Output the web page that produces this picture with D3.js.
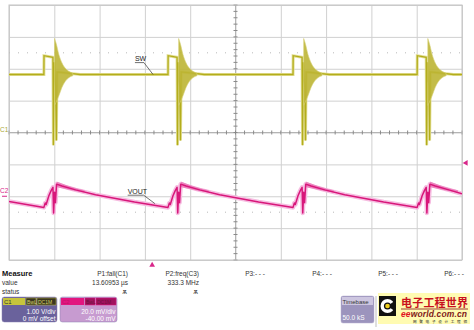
<!DOCTYPE html>
<html>
<head>
<meta charset="utf-8">
<script src="https://cdnjs.cloudflare.com/ajax/libs/d3/7.8.5/d3.min.js"></script>
<style>
  body { margin: 0; background: #fff; }
  svg { display: block; font-family: "Liberation Sans", Arial, sans-serif; }
</style>
</head>
<body>
<div id="scope"></div>
<script>
// time is in divisions (10 across), C1 in volts, C2 in mV

// rising edge of every SW pulse on screen
var edgeTimes = [0.77, 3.51, 6.27, 9.01];

// SW (C1) shape around one edge: [dt, volts]
var swLeadIn = [[0, 1.82]];
var swPulse = [[0, 1.82], [0.003, 2.41], [0.2, 2.36], [0.21, -0.4], [0.225, 2.2],
               [0.26, 1.4], [0.275, -0.25], [0.29, 1.9], [0.8, 1.82]];
var swTail = [[10, 1.82]];
// ringing envelope after the edge: [dt, top, bottom]
var swRing = [[0.235, 2.95, 0.85], [0.27, 2.8, 0.95], [0.33, 2.45, 1.15], [0.4, 2.18, 1.42],
              [0.47, 2.02, 1.6], [0.55, 1.92, 1.72], [0.64, 1.86, 1.78]];

// VOUT (C2) shape around one edge: [dt, mV]
var voutLeadIn = [[0, -3.3]];
var voutEdge = [[0, -7], [0.03, -4.2], [0.05, -5.2], [0.11, 0.3], [0.16, 3.5], [0.2, 5.6],
                [0.215, -10.5], [0.235, 2.5], [0.255, -4], [0.28, 7.6], [0.4, 6.4],
                [0.7, 4.0], [1.14, 1.0], [2.0, -3.6]];
var voutTail = [[10, 1.5]];
var voutFuzz = [[0.28, 9.3, 5.8], [0.4, 8.0, 5.0], [0.6, 6.0, 3.8], [0.9, 3.8, 2.2]];

// channel settings
var c1VoltsPerDiv = 1, c1Offset = 0;
var c2MvPerDiv = 20, c2Offset = -40;
var triggerTime = 3.16, triggerLevel = 20.9;

// measurement table
var measureNames = ["P1:fall(C1)", "P2:freq(C3)", "P3:- - -", "P4:- - -", "P5:- - -", "P6:- - -"];
var measureValues = ["13.60953 µs", "333.3 MHz", "", "", "", ""];
var measureStatus = ["ѫ", "ѫ", "", "", "", ""];
var rowLabels = ["Measure", "value", "status"];

(function() {
  var width = 474,
      height = 330;
  var plotL = 9, plotR = 462, plotT = 5, plotB = 260;

  var svg = d3.select("#scope")
    .append("svg")
    .attr("width", width)
    .attr("height", height);

  var x = d3.scaleLinear().domain([0, 10]).range([plotL, plotR]);
  var y1 = d3.scaleLinear()
    .domain([-c1Offset - 4 * c1VoltsPerDiv, -c1Offset + 4 * c1VoltsPerDiv])
    .range([plotB, plotT]);
  var y2 = d3.scaleLinear()
    .domain([-c2Offset - 4 * c2MvPerDiv, -c2Offset + 4 * c2MvPerDiv])
    .range([plotB, plotT]);
  var yDiv = d3.scaleLinear().domain([-4, 4]).range([plotB, plotT]);

  // grid
  svg.append("g")
    .attr("transform", "translate(0," + plotB + ")")
    .call(d3.axisBottom(x).ticks(10).tickSize(-(plotB - plotT)).tickFormat(""))
    .call(function(g) { g.select(".domain").remove(); })
    .selectAll("line").attr("stroke", "#d0d0d0");
  svg.append("g")
    .attr("transform", "translate(" + plotL + ",0)")
    .call(d3.axisLeft(yDiv).ticks(8).tickSize(-(plotR - plotL)).tickFormat(""))
    .call(function(g) { g.select(".domain").remove(); })
    .selectAll("line").attr("stroke", "#d0d0d0");

  // faint dotted lines at +-2.5 div
  [2.5, -2.5].forEach(function(d) {
    svg.append("line")
      .attr("x1", plotL).attr("x2", plotR)
      .attr("y1", yDiv(d)).attr("y2", yDiv(d))
      .attr("stroke", "#b8b8b8")
      .attr("stroke-dasharray", "1,8");
  });

  // center cross with minor ticks
  svg.append("line")
    .attr("x1", plotL).attr("x2", plotR)
    .attr("y1", yDiv(0)).attr("y2", yDiv(0))
    .attr("stroke", "#b4b4b4");
  svg.append("line")
    .attr("x1", x(5)).attr("x2", x(5))
    .attr("y1", plotT).attr("y2", plotB)
    .attr("stroke", "#b4b4b4");
  svg.selectAll(".xminor")
    .data(d3.range(0, 10.001, 0.2))
    .enter().append("line")
    .attr("x1", function(d) { return x(d); })
    .attr("x2", function(d) { return x(d); })
    .attr("y1", yDiv(0) - 2).attr("y2", yDiv(0) + 2)
    .attr("stroke", "#8a8a8a");
  svg.selectAll(".yminor")
    .data(d3.range(-4, 4.001, 0.2))
    .enter().append("line")
    .attr("y1", function(d) { return yDiv(d); })
    .attr("y2", function(d) { return yDiv(d); })
    .attr("x1", x(5) - 2).attr("x2", x(5) + 2)
    .attr("stroke", "#8a8a8a");

  svg.append("rect")
    .attr("x", plotL).attr("y", plotT)
    .attr("width", plotR - plotL).attr("height", plotB - plotT)
    .attr("fill", "none")
    .attr("stroke", "#c4c4c4");

  // build traces
  function shifted(shape) {
    var out = [];
    edgeTimes.forEach(function(e) {
      shape.forEach(function(p) { out.push([e + p[0]].concat(p.slice(1))); });
    });
    return out;
  }
  var swPoints = swLeadIn.concat(shifted(swPulse).filter(function(p) { return p[0] <= 10; }), swTail);
  var voutPoints = voutLeadIn.concat(shifted(voutEdge).filter(function(p) { return p[0] <= 10; }), voutTail);

  svg.append("clipPath").attr("id", "plotclip")
    .append("rect")
    .attr("x", plotL).attr("y", plotT)
    .attr("width", plotR - plotL).attr("height", plotB - plotT);
  var traces = svg.append("g").attr("clip-path", "url(#plotclip)");

  var line1 = d3.line().x(function(d) { return x(d[0]); }).y(function(d) { return y1(d[1]); });
  var line2 = d3.line().x(function(d) { return x(d[0]); }).y(function(d) { return y2(d[1]); });
  var ring = d3.area()
    .x(function(d) { return x(d[0]); })
    .y0(function(d) { return y1(d[2]); })
    .y1(function(d) { return y1(d[1]); })
    .curve(d3.curveMonotoneX);
  var fuzz = d3.area()
    .x(function(d) { return x(d[0]); })
    .y0(function(d) { return y2(d[2]); })
    .y1(function(d) { return y2(d[1]); })
    .curve(d3.curveMonotoneX);

  // SW
  traces.append("path").attr("d", line1(swPoints))
    .attr("fill", "none").attr("stroke", "#e4e09a").attr("stroke-width", 3);
  traces.append("path").attr("d", line1(swPoints))
    .attr("fill", "none").attr("stroke", "#b3ad1c").attr("stroke-width", 1.3);
  edgeTimes.forEach(function(e) {
    var env = swRing.map(function(p) { return [e + p[0], p[1], p[2]]; });
    traces.append("path").attr("d", ring(env))
      .attr("fill", "#bcb534").attr("fill-opacity", 0.9)
      .attr("stroke", "#d6d27a").attr("stroke-width", 0.6);
  });

  // VOUT
  traces.append("path").attr("d", line2(voutPoints))
    .attr("fill", "none").attr("stroke", "#f6bde1").attr("stroke-width", 4.5)
    .attr("stroke-linejoin", "round");
  edgeTimes.forEach(function(e) {
    var env = voutFuzz.map(function(p) { return [e + p[0], p[1], p[2]]; });
    traces.append("path").attr("d", fuzz(env)).attr("fill", "#ec84bf");
  });
  traces.append("path").attr("d", line2(voutPoints))
    .attr("fill", "none").attr("stroke", "#d8177a").attr("stroke-width", 1.5)
    .attr("stroke-linejoin", "round");

  // channel ground labels
  svg.append("text").attr("x", 0).attr("y", y1(0) - 1)
    .attr("font-size", 6.5).attr("fill", "#a8a838").text("C1");
  svg.append("text").attr("x", 0).attr("y", y2(0) - 3)
    .attr("font-size", 6.5).attr("fill", "#d8278a").text("C2");
  svg.append("line").attr("x1", 2).attr("x2", 7)
    .attr("y1", y2(0)).attr("y2", y2(0))
    .attr("stroke", "#d8278a").attr("stroke-width", 1);

  // trace annotations
  function annotate(label, tx, ty, ex, ey, w) {
    svg.append("text").attr("x", tx).attr("y", ty)
      .attr("font-size", 7).attr("fill", "#222").text(label);
    svg.append("path")
      .attr("d", "M" + tx + "," + (ty + 1.5) + "H" + (tx + w) + "L" + ex + "," + ey)
      .attr("fill", "none").attr("stroke", "#333").attr("stroke-width", 0.7);
  }
  annotate("SW", x(2.78), y1(2.24), x(3.18), y1(1.82), 9);
  annotate("VOUT", x(2.62), y2(1.6), x(3.22), y2(-4.6), 16);

  // trigger markers
  svg.append("path")
    .attr("d", d3.symbol().type(d3.symbolTriangle).size(14))
    .attr("transform", "translate(" + x(triggerTime) + "," + (plotB + 5) + ")")
    .attr("fill", "#d8278a");
  svg.append("path")
    .attr("d", d3.symbol().type(d3.symbolTriangle).size(14))
    .attr("transform", "translate(" + (plotR + 4) + "," + y2(triggerLevel) + ") rotate(-90)")
    .attr("fill", "#d8278a");

  // measurement table
  var rowY = [276, 285, 294];
  rowLabels.forEach(function(t, i) {
    svg.append("text").attr("x", 2).attr("y", rowY[i])
      .attr("font-size", i === 0 ? 7.5 : 6.5)
      .attr("font-weight", i === 0 ? "bold" : "normal")
      .attr("fill", i === 0 ? "#111" : "#333").text(t);
  });
  var colX = [128, 199, 265, 332, 398, 464];
  measureNames.forEach(function(t, i) {
    svg.append("text").attr("x", colX[i]).attr("y", rowY[0])
      .attr("text-anchor", "end").attr("font-size", 6.5).attr("fill", "#333").text(t);
    svg.append("text").attr("x", colX[i]).attr("y", rowY[1])
      .attr("text-anchor", "end").attr("font-size", 6.5).attr("fill", "#333").text(measureValues[i]);
    svg.append("text").attr("x", colX[i] - 1).attr("y", rowY[2])
      .attr("text-anchor", "end").attr("font-size", 7).attr("fill", "#333").text(measureStatus[i]);
  });

  // channel boxes
  function chanBox(x0, w, body, head, headW, tagFill, tagText, name, l1, l2) {
    var g = svg.append("g").attr("transform", "translate(" + x0 + ",297)");
    g.append("rect").attr("width", w).attr("height", 25).attr("rx", 2.5)
      .attr("fill", body).attr("stroke", "#8a80b0").attr("stroke-width", 0.5);
    g.append("rect").attr("x", 1).attr("y", 1).attr("width", headW).attr("height", 7)
      .attr("fill", head);
    g.append("text").attr("x", 2).attr("y", 7).attr("font-size", 6)
      .attr("fill", name === "C1" ? "#333" : "#c0106a").text(name);
    g.append("rect").attr("x", headW + 2).attr("y", 1).attr("width", 10).attr("height", 7)
      .attr("fill", tagFill).attr("stroke", head).attr("stroke-width", 0.5);
    g.append("text").attr("x", headW + 3).attr("y", 7).attr("font-size", 5)
      .attr("fill", tagText).text("BwL");
    g.append("rect").attr("x", headW + 13).attr("y", 1).attr("width", w - headW - 14).attr("height", 7)
      .attr("fill", tagFill).attr("stroke", head).attr("stroke-width", 0.5);
    g.append("text").attr("x", headW + 14).attr("y", 7).attr("font-size", 5)
      .attr("fill", tagText).text("DC1M");
    g.append("text").attr("x", w - 1.5).attr("y", 16.5).attr("text-anchor", "end")
      .attr("font-size", 6.5).attr("fill", "#fff").text(l1);
    g.append("text").attr("x", w - 1.5).attr("y", 23.5).attr("text-anchor", "end")
      .attr("font-size", 6.5).attr("fill", "#fff").text(l2);
  }
  chanBox(2, 55, "#6a629c", "#c6c43c", 22, "#3a3620", "#d8d468", "C1",
          c1VoltsPerDiv.toFixed(2) + " V/div", c1Offset + " mV offset");
  chanBox(60, 57, "#c79bd0", "#e2157f", 23, "#a0125e", "#70103e", "C2",
          c2MvPerDiv.toFixed(1) + " mV/div", c2Offset.toFixed(2) + " mV");

  // timebase box
  var tb = svg.append("g").attr("transform", "translate(341,296)");
  tb.append("rect").attr("width", 33).attr("height", 27).attr("rx", 2)
    .attr("fill", "#9c94bd").attr("stroke", "#b8b0d0").attr("stroke-width", 0.5);
  tb.append("rect").attr("x", 1).attr("y", 1).attr("width", 31).attr("height", 8)
    .attr("fill", "#cdc6e0");
  tb.append("text").attr("x", 1.5).attr("y", 7.5).attr("font-size", 6)
    .attr("fill", "#333").text("Timebase");
  tb.append("text").attr("x", 1.5).attr("y", 24).attr("font-size", 6.5)
    .attr("fill", "#fff").text("50.0 kS");
  svg.append("line").attr("x1", 376).attr("x2", 376).attr("y1", 296).attr("y2", 327)
    .attr("stroke", "#d4d4d4").attr("stroke-width", 1.5);

  // eeworld logo
  var logo = svg.append("g").attr("transform", "translate(378,293)");
  logo.append("rect").attr("width", 92).attr("height", 31).attr("fill", "#fffbb2");
  logo.append("rect").attr("x", 1).attr("y", 3).attr("width", 17).attr("height", 20).attr("fill", "#111");
  logo.append("circle").attr("cx", 9.5).attr("cy", 13).attr("r", 7).attr("fill", "#fff");
  logo.append("path").attr("d", "M9.5,13L18,7V19Z").attr("fill", "#111");
  logo.append("circle").attr("cx", 9.5).attr("cy", 13).attr("r", 3.6).attr("fill", "#111");
  logo.append("circle").attr("cx", 9.5).attr("cy", 13).attr("r", 2.3).attr("fill", "#f0d020");
  logo.append("text").attr("x", 23).attr("y", 14).attr("font-size", 11)
    .attr("font-family", "Noto Sans CJK SC").attr("font-weight", "bold")
    .attr("fill", "#c8101c").attr("textLength", 67).text("电子工程世界");
  logo.append("line").attr("x1", 23).attr("x2", 90).attr("y1", 16).attr("y2", 16)
    .attr("stroke", "#801010").attr("stroke-width", 0.8);
  var ee = logo.append("text").attr("x", 23).attr("y", 24).attr("font-size", 8.5)
    .attr("font-style", "italic").attr("font-weight", "bold").attr("textLength", 66);
  ee.append("tspan").attr("fill", "#e01020").text("ee");
  ee.append("tspan").attr("fill", "#801818").text("world.com.cn");
  logo.append("text").attr("x", 35).attr("y", 29.5).attr("font-size", 3.6)
    .attr("font-family", "Noto Sans CJK SC").attr("fill", "#222")
    .attr("textLength", 54).text("网聚电子设计工程师");
})();
</script>
</body>
</html>
